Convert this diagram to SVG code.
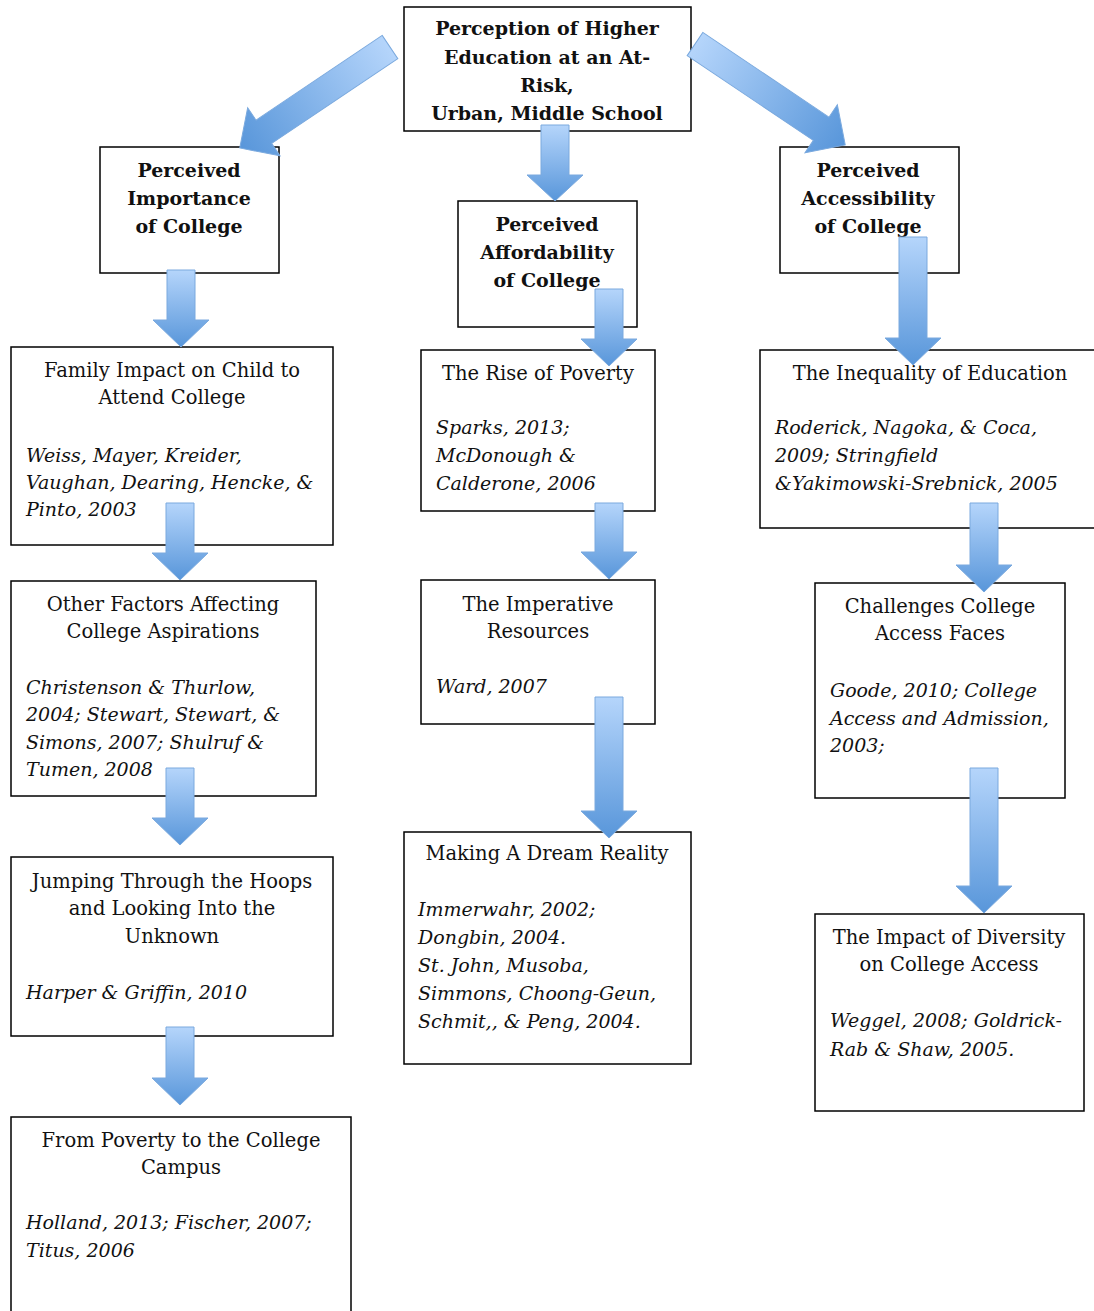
<svg xmlns="http://www.w3.org/2000/svg" width="1094" height="1311" viewBox="0 0 1094 1311">
<defs>
<linearGradient id="ag" x1="0" y1="0" x2="0" y2="1">
<stop offset="0" stop-color="#b5d5fb"/>
<stop offset="1" stop-color="#5896da"/>
</linearGradient>
<style>
.box{fill:#fff;stroke:#000;stroke-width:1.5}
.t{font-family:"DejaVu Serif","Liberation Serif",serif;font-size:19.5px;fill:#111;text-anchor:middle}
.b{font-weight:bold;font-size:19px}
.i{font-family:"DejaVu Serif","Liberation Serif",serif;font-size:19px;fill:#111;font-style:italic}
.arr{fill:url(#ag);stroke:#7aa9de;stroke-width:1}
</style>
</defs>
<rect width="1094" height="1311" fill="#fff"/>
<g id="n-top"><rect class="box" x="404" y="7" width="287" height="124"/>
<text class="t b" x="547" y="35">Perception of Higher</text>
<text class="t b" x="547" y="64">Education at an At-</text>
<text class="t b" x="547" y="92">Risk,</text>
<text class="t b" x="547" y="120">Urban, Middle School</text></g>
<g id="n-importance"><rect class="box" x="100" y="147" width="179" height="126"/>
<text class="t b" x="189" y="177">Perceived</text>
<text class="t b" x="189" y="205">Importance</text>
<text class="t b" x="189" y="233">of College</text></g>
<g id="n-afford"><rect class="box" x="458" y="201" width="179" height="126"/>
<text class="t b" x="547" y="231">Perceived</text>
<text class="t b" x="547" y="259">Affordability</text>
<text class="t b" x="547" y="287">of College</text></g>
<g id="n-access"><rect class="box" x="780" y="147" width="179" height="126"/>
<text class="t b" x="868" y="177">Perceived</text>
<text class="t b" x="868" y="205">Accessibility</text>
<text class="t b" x="868" y="233">of College</text></g>
<g id="n-family"><rect class="box" x="11" y="347" width="322" height="198"/>
<text class="t" x="172" y="377">Family Impact on Child to</text>
<text class="t" x="172" y="404">Attend College</text>
<text class="i" x="26" y="462">Weiss, Mayer, Kreider,</text>
<text class="i" x="26" y="489">Vaughan, Dearing, Hencke, &amp;</text>
<text class="i" x="26" y="516">Pinto, 2003</text></g>
<g id="n-other"><rect class="box" x="11" y="581" width="305" height="215"/>
<text class="t" x="163" y="611">Other Factors Affecting</text>
<text class="t" x="163" y="638">College Aspirations</text>
<text class="i" x="26" y="694">Christenson &amp; Thurlow,</text>
<text class="i" x="26" y="721">2004; Stewart, Stewart, &amp;</text>
<text class="i" x="26" y="749">Simons, 2007; Shulruf &amp;</text>
<text class="i" x="26" y="776">Tumen, 2008</text></g>
<g id="n-jumping"><rect class="box" x="11" y="857" width="322" height="179"/>
<text class="t" x="172" y="888">Jumping Through the Hoops</text>
<text class="t" x="172" y="915">and Looking Into the</text>
<text class="t" x="172" y="943">Unknown</text>
<text class="i" x="26" y="999">Harper &amp; Griffin, 2010</text></g>
<g id="n-frompoverty"><rect class="box" x="11" y="1117" width="340" height="200"/>
<text class="t" x="181" y="1147">From Poverty to the College</text>
<text class="t" x="181" y="1174">Campus</text>
<text class="i" x="26" y="1229">Holland, 2013; Fischer, 2007;</text>
<text class="i" x="26" y="1257">Titus, 2006</text></g>
<g id="n-rise"><rect class="box" x="421" y="350" width="234" height="161"/>
<text class="t" x="538" y="380">The Rise of Poverty</text>
<text class="i" x="436" y="434">Sparks, 2013;</text>
<text class="i" x="436" y="462">McDonough &amp;</text>
<text class="i" x="436" y="490">Calderone, 2006</text></g>
<g id="n-imperative"><rect class="box" x="421" y="580" width="234" height="144"/>
<text class="t" x="538" y="611">The Imperative</text>
<text class="t" x="538" y="638">Resources</text>
<text class="i" x="436" y="693">Ward, 2007</text></g>
<g id="n-dream"><rect class="box" x="404" y="832" width="287" height="232"/>
<text class="t" x="547" y="860">Making A Dream Reality</text>
<text class="i" x="418" y="916">Immerwahr, 2002;</text>
<text class="i" x="418" y="944">Dongbin, 2004.</text>
<text class="i" x="418" y="972">St. John, Musoba,</text>
<text class="i" x="418" y="1000">Simmons, Choong-Geun,</text>
<text class="i" x="418" y="1028">Schmit,, &amp; Peng, 2004.</text></g>
<g id="n-inequality"><rect class="box" x="760" y="350" width="340" height="178"/>
<text class="t" x="930" y="380">The Inequality of Education</text>
<text class="i" x="775" y="434">Roderick, Nagoka, &amp; Coca,</text>
<text class="i" x="775" y="462">2009; Stringfield</text>
<text class="i" x="775" y="490">&amp;Yakimowski-Srebnick, 2005</text></g>
<g id="n-challenges"><rect class="box" x="815" y="583" width="250" height="215"/>
<text class="t" x="940" y="613">Challenges College</text>
<text class="t" x="940" y="640">Access Faces</text>
<text class="i" x="830" y="697">Goode, 2010; College</text>
<text class="i" x="830" y="725">Access and Admission,</text>
<text class="i" x="830" y="752">2003;</text></g>
<g id="n-diversity"><rect class="box" x="815" y="914" width="269" height="197"/>
<text class="t" x="949" y="944">The Impact of Diversity</text>
<text class="t" x="949" y="971">on College Access</text>
<text class="i" x="830" y="1027">Weggel, 2008; Goldrick-</text>
<text class="i" x="830" y="1056">Rab &amp; Shaw, 2005.</text></g>
<g id="connectors">
<path class="arr" transform="translate(390,47) rotate(56.1)" d="M-14,0H14V152H29L0,181L-29,152H-14Z"/>
<path class="arr" transform="translate(695,44) rotate(-56.1)" d="M-14,0H14V152H29L0,181L-29,152H-14Z"/>
<path class="arr" transform="translate(555,125)" d="M-14,0H14V50H28L0,76L-28,50H-14Z"/>
<path class="arr" transform="translate(181,270)" d="M-14,0H14V50H28L0,77L-28,50H-14Z"/>
<path class="arr" transform="translate(180,503)" d="M-14,0H14V50H28L0,77L-28,50H-14Z"/>
<path class="arr" transform="translate(180,768)" d="M-14,0H14V50H28L0,77L-28,50H-14Z"/>
<path class="arr" transform="translate(180,1027)" d="M-14,0H14V51H28L0,78L-28,51H-14Z"/>
<path class="arr" transform="translate(609,289)" d="M-14,0H14V50H28L0,77L-28,50H-14Z"/>
<path class="arr" transform="translate(609,503)" d="M-14,0H14V49H28L0,76L-28,49H-14Z"/>
<path class="arr" transform="translate(609,697)" d="M-14,0H14V114H28L0,141L-28,114H-14Z"/>
<path class="arr" transform="translate(913,237)" d="M-14,0H14V101H28L0,128L-28,101H-14Z"/>
<path class="arr" transform="translate(984,503)" d="M-14,0H14V62H28L0,89L-28,62H-14Z"/>
<path class="arr" transform="translate(984,768)" d="M-14,0H14V118H28L0,145L-28,118H-14Z"/>
</g>
</svg>
